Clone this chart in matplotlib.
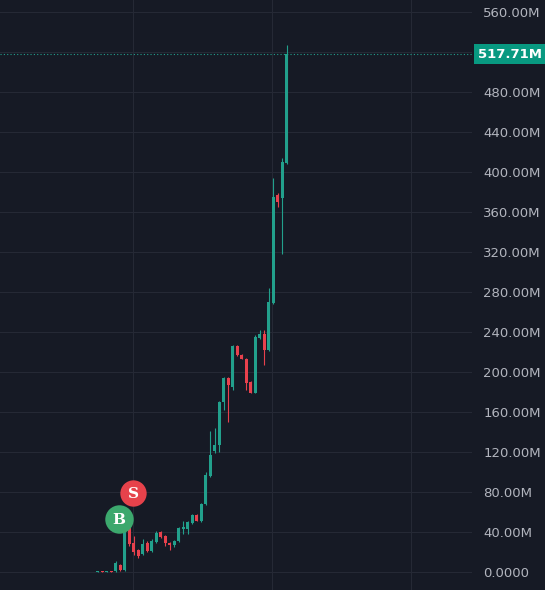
import numpy as np
import matplotlib
matplotlib.use("Agg")
import matplotlib.pyplot as plt
import matplotlib.transforms as mtransforms

# Candle data (millions), one entry per bar
opens  = [0.2, 0.6, 0.3, 0.6, 1, 7, 2, 44, 29, 22, 18.5, 29.5, 21.5, 30, 40, 36, 29.5, 27, 31,
          43, 43, 49, 57, 51.5, 68.5, 96, 121, 127, 170, 194, 185, 226, 217, 213.5, 190, 179.5,
          234, 238.5, 222, 269.5, 377, 374, 409.5]
highs  = [0.7, 0.8, 0.7, 0.8, 11, 8, 48, 62, 36, 23, 33, 31, 33, 41, 41, 37, 30, 32, 45,
          51, 51, 58, 58, 69, 100.5, 141, 144, 171, 195, 195, 227, 227, 218, 214, 191, 237,
          242, 242, 284, 394, 379, 414, 527]
lows   = [0.0, 0.1, 0.0, 0.1, 0.5, 1.5, 1, 26, 17, 14, 17, 20, 20.5, 29, 34, 26, 22, 25, 30,
          38, 38.5, 48, 51, 50, 67, 95, 119, 120, 162, 150, 182, 216, 213, 182, 179, 179,
          233, 207, 221, 268, 365, 318, 408]
closes = [0.6, 0.3, 0.6, 0.3, 9, 2, 44, 28, 20.5, 16, 28, 21.5, 31.5, 39.5, 35, 29, 27.5, 31, 44,
          45, 50, 57, 51.5, 68.5, 97, 117, 127, 170, 194, 187, 226, 217, 213.5, 189, 179.5, 235,
          238.5, 222, 270, 375, 370.5, 410, 517.71]

last_price = 517.71

# Trade markers (bar index, price)
buy_marker = (4.7, 53)
sell_marker = (7.9, 78.7)

# Price scale
yticks = [0, 40, 80, 120, 160, 200, 240, 280, 320, 360, 400, 440, 480, 520, 560]
ytick_labels = ["0.0000", "40.00M", "80.00M", "120.00M", "160.00M", "200.00M", "240.00M",
                "280.00M", "320.00M", "360.00M", "400.00M", "440.00M", "480.00M", "", "560.00M"]

bg = "#161a25"
grid_col = "#252935"
up_col = "#22a08c"
down_col = "#e8414d"
text_col = "#b2b5be"

fig = plt.figure(figsize=(5.45, 5.9), dpi=100, facecolor=bg)
ax = fig.add_axes([0, 0, 472 / 545, 1])
ax.set_facecolor(bg)

x = np.arange(len(opens))
o = np.array(opens)
c = np.array(closes)
h = np.array(highs)
l = np.array(lows)
colors = np.where(c >= o, up_col, down_col)

# wicks then bodies
ax.vlines(x, l, h, colors=colors, linewidth=0.8, zorder=3)
body_low = np.minimum(o, c)
body_h = np.maximum(np.abs(c - o), 1.0)
ax.bar(x, body_h, bottom=body_low, width=0.68, color=colors, linewidth=0, zorder=4)

# last price dotted line
ax.axhline(last_price, color=up_col, linestyle=(0, (1, 2)), linewidth=0.8, zorder=2)

# B / S markers
ax.scatter([buy_marker[0]], [buy_marker[1]], s=420, color="#3ca86d", zorder=6, linewidths=0)
ax.text(buy_marker[0], buy_marker[1] - 0.5, "B", color="white", fontsize=11, fontweight="bold",
        family="DejaVu Serif", ha="center", va="center", zorder=7)
ax.scatter([sell_marker[0]], [sell_marker[1]], s=360, color="#e6424b", zorder=6, linewidths=0)
ax.text(sell_marker[0], sell_marker[1] - 0.5, "S", color="white", fontsize=11, fontweight="bold",
        family="DejaVu Serif", ha="center", va="center", zorder=7)

ax.set_xlim(-21.7, 83.2)
ax.set_ylim(-18, 572)

# grid
ax.set_yticks(yticks)
ax.set_yticklabels(ytick_labels)
ax.set_xticks([7.8, 38.7, 69.6])
ax.set_xticklabels([])
ax.grid(True, color=grid_col, linewidth=0.8)
ax.set_axisbelow(True)
ax.yaxis.tick_right()
ax.tick_params(axis="y", length=0, pad=8, labelsize=9.5, labelcolor=text_col)
ax.tick_params(axis="x", length=0)
for s in ax.spines.values():
    s.set_visible(False)

# last price label
trans = mtransforms.blended_transform_factory(ax.transAxes, ax.transData)
ax.text(1.012, last_price, "517.71M", transform=trans, color="white", fontsize=9.5,
        fontweight="bold", ha="left", va="center", clip_on=False, zorder=8,
        bbox=dict(boxstyle="square,pad=0.28", fc="#089981", ec="none"))

fig.savefig("out.png", dpi=100, facecolor=bg)
